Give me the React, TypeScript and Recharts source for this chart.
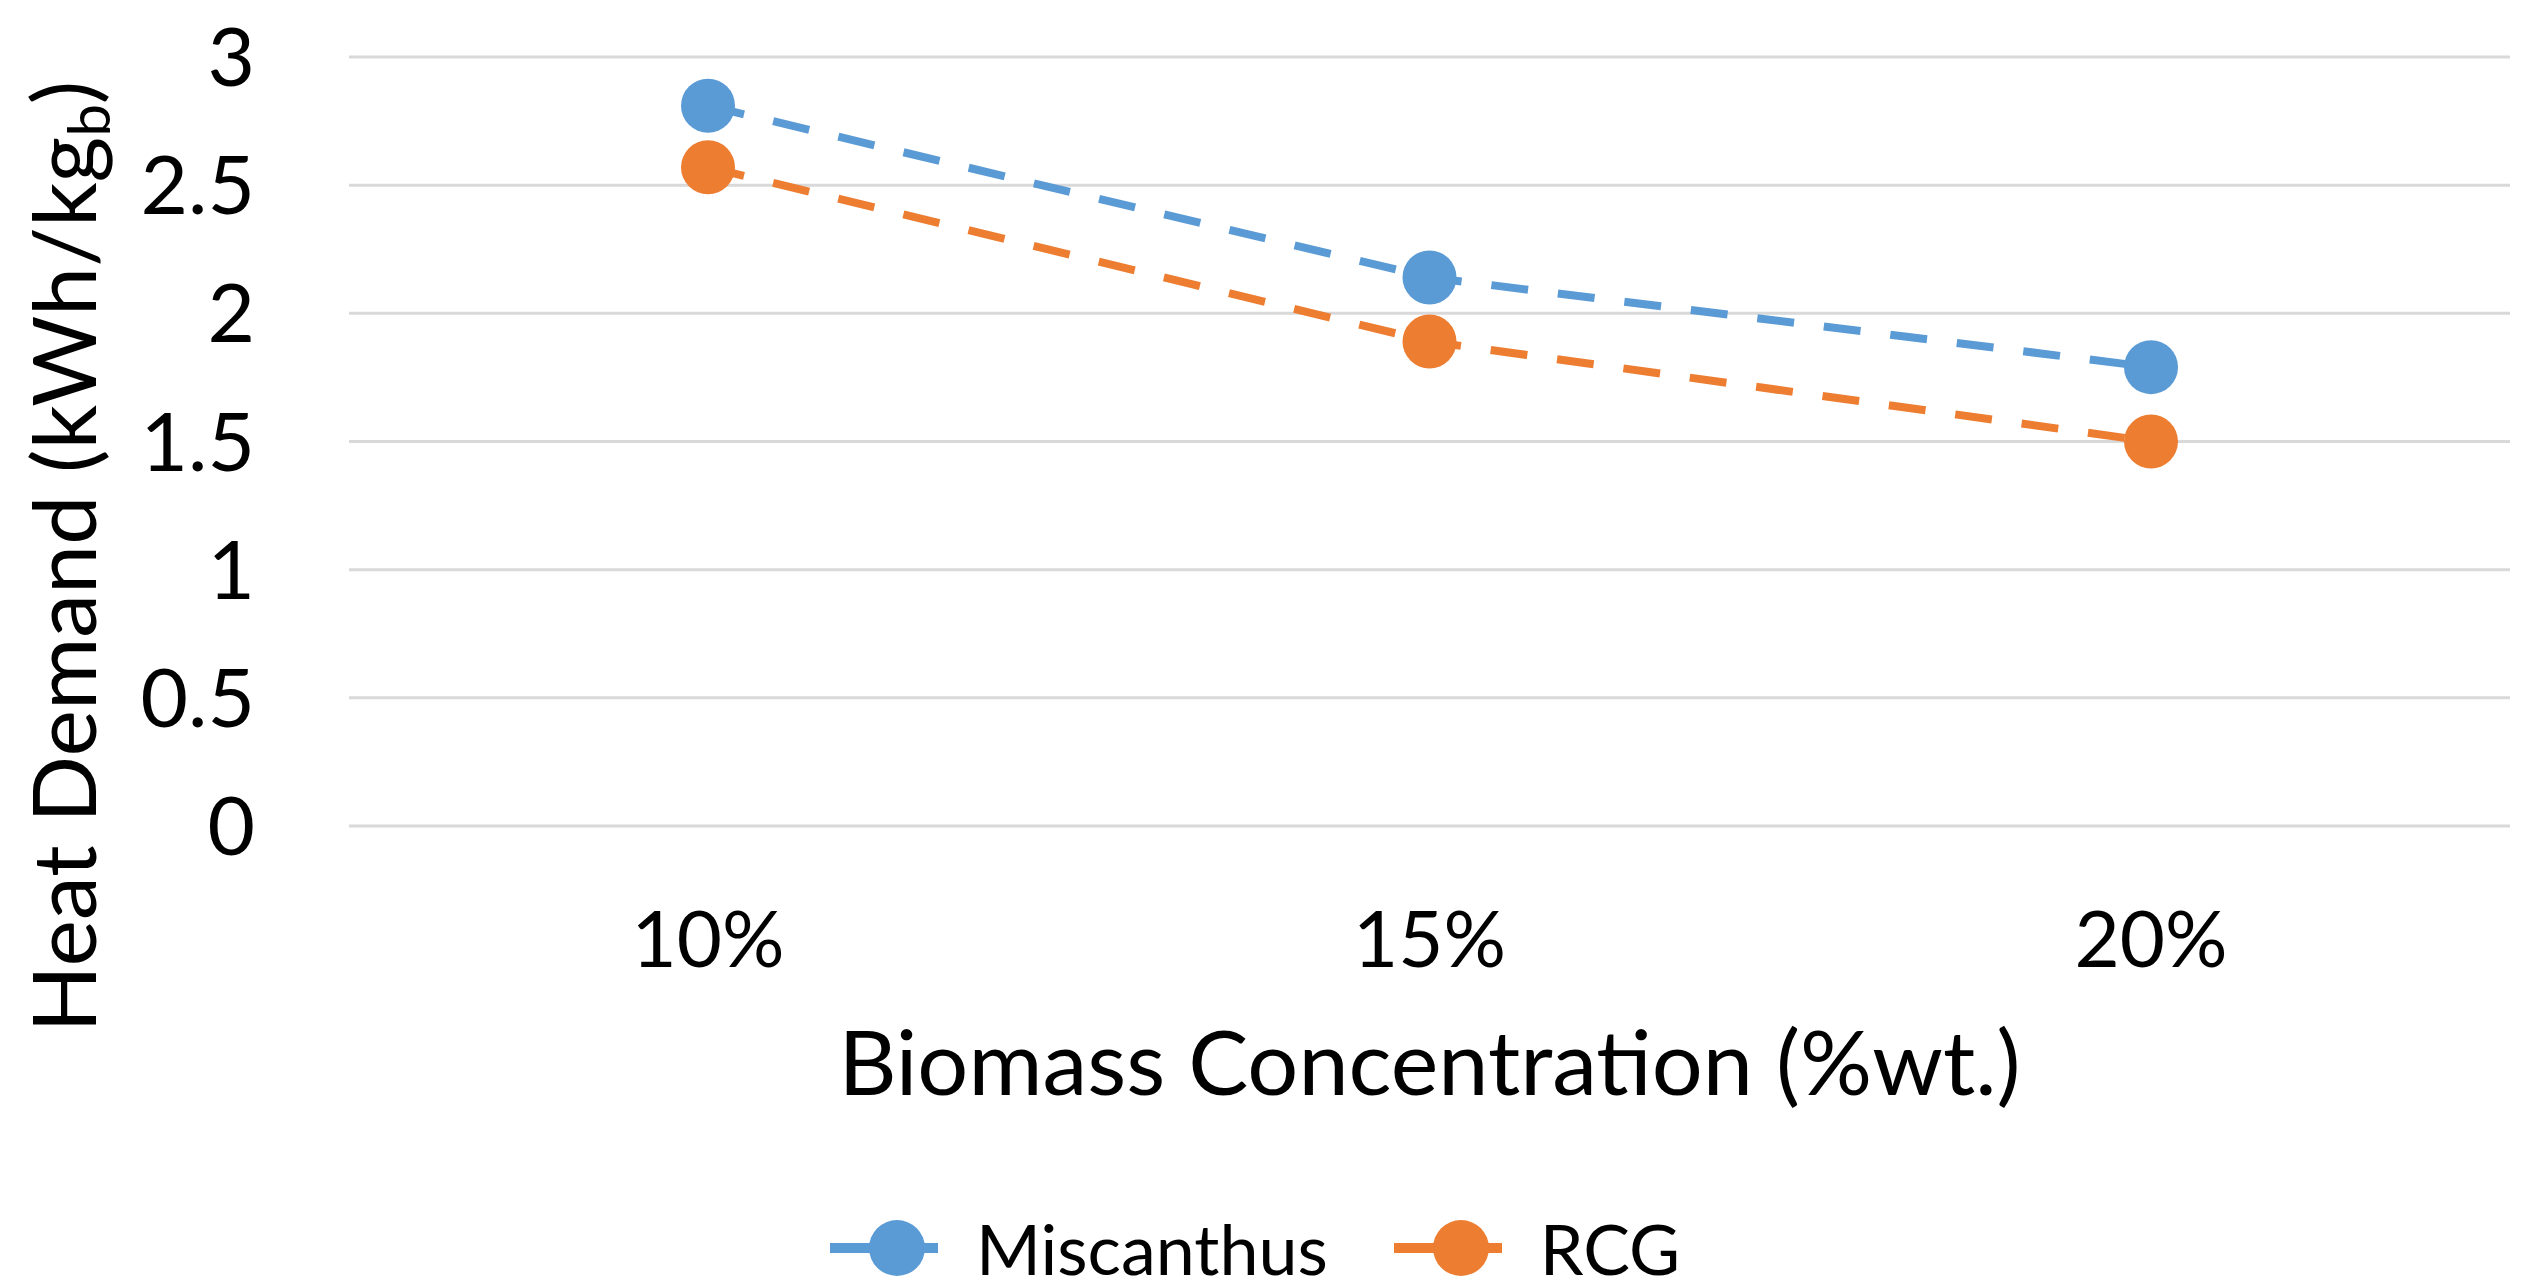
import { LineChart, Line, XAxis, YAxis, CartesianGrid, Legend, Label } from "recharts"

const categories = ["10%", "15%", "20%"]
const miscanthus = [2.81, 2.14, 1.79]
const rcg = [2.57, 1.89, 1.5]
const yTicks = [0, 0.5, 1, 1.5, 2, 2.5, 3]

const BLUE = "#5B9BD5"
const ORANGE = "#ED7D31"
const FONT = "Lato, 'Open Sans', sans-serif"

const data = categories.map((cat, i) => ({
  cat,
  Miscanthus: miscanthus[i],
  RCG: rcg[i],
}))

const YTitle = (props: any) => {
  const vb = props.viewBox || { x: 0, y: 0, width: 0, height: 0 }
  const x = vb.x + 96
  const y = vb.y + vb.height / 2 + 115
  return (
    <text
      x={x}
      y={y}
      transform={`rotate(-90, ${x}, ${y})`}
      textAnchor="middle"
      fontFamily={FONT}
      fontSize={88}
      fill="#000"
    >
      Heat Demand (kWh/kg
      <tspan fontSize={58} dy={14}>b</tspan>
      <tspan dy={-14}>)</tspan>
    </text>
  )
}

// legend drawn like Excel's: short line with the marker on it
const LegendContent = ({ payload }: any) => (
  <div
    style={{
      display: "flex",
      justifyContent: "center",
      alignItems: "center",
      height: 76,
      fontFamily: FONT,
      fontSize: 70,
      color: "#000",
    }}
  >
    {(payload || []).map((entry: any, i: number) => (
      <div key={entry.value} style={{ display: "flex", alignItems: "center", marginLeft: i ? 66 : 0 }}>
        <svg width={108} height={60}>
          <line x1={0} y1={30} x2={108} y2={30} stroke={entry.color} strokeWidth={10} />
          <circle cx={67} cy={30} r={28} fill={entry.color} />
        </svg>
        <span style={{ marginLeft: 38, lineHeight: 1 }}>{entry.value}</span>
      </div>
    ))}
  </div>
)

export default function App() {
  return (
    <div style={{ position: "absolute", left: 0, top: 0, background: "#fff" }}>
      <LineChart
        width={2530}
        height={1286}
        data={data}
        margin={{ top: 57, right: 20, bottom: 0, left: 0 }}
      >
        <CartesianGrid vertical={false} stroke="#d9d9d9" strokeWidth={3} />
        <XAxis
          dataKey="cat"
          height={384}
          padding={{ left: 359, right: 359 }}
          axisLine={false}
          tickLine={false}
          tickSize={0}
          tickMargin={86}
          tick={{ fontSize: 78, fill: "#000", fontFamily: FONT }}
          label={{
            value: "Biomass Concentration (%wt.)",
            position: "insideBottom",
            offset: 115,
            fontSize: 90,
            fill: "#000",
            fontFamily: FONT,
          }}
        />
        <YAxis
          width={349}
          domain={[0, 3]}
          ticks={yTicks}
          axisLine={false}
          tickLine={false}
          tickSize={0}
          tickMargin={94}
          tick={{ fontSize: 82, fill: "#000", fontFamily: FONT }}
        >
          <Label content={<YTitle />} />
        </YAxis>
        <Legend verticalAlign="bottom" align="center" content={<LegendContent />} />
        <Line
          dataKey="Miscanthus"
          stroke={BLUE}
          strokeWidth={8}
          strokeDasharray="37 30"
          dot={{ r: 27, fill: BLUE, stroke: "none", strokeDasharray: "none" }}
          activeDot={false}
          isAnimationActive={false}
        />
        <Line
          dataKey="RCG"
          stroke={ORANGE}
          strokeWidth={8}
          strokeDasharray="37 30"
          dot={{ r: 27, fill: ORANGE, stroke: "none", strokeDasharray: "none" }}
          activeDot={false}
          isAnimationActive={false}
        />
      </LineChart>
    </div>
  )
}
